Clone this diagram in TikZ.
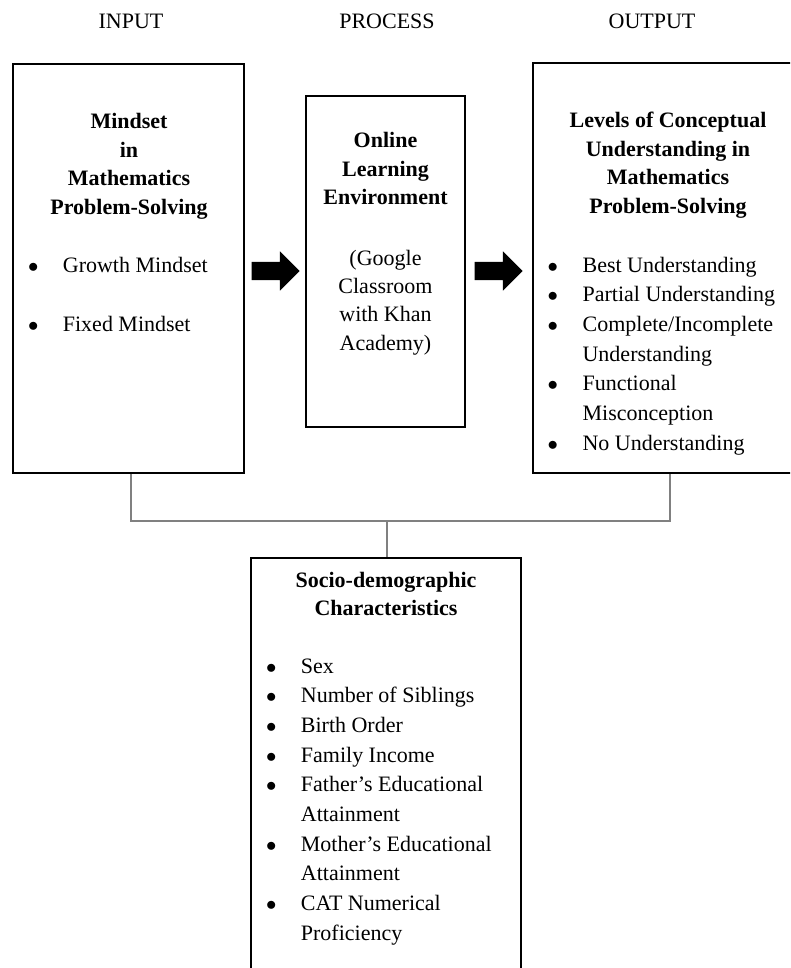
\documentclass[tikz,border=0pt]{standalone}
\usepackage{fontspec}
\setmainfont{Liberation Serif}
\usetikzlibrary{shapes.arrows}

\newcommand{\headfont}{\fontsize{22}{28.4}\selectfont}
\newcommand{\itemfont}{\fontsize{22}{29.7}\selectfont}
\newcommand{\bl}{\makebox[32.7pt][l]{\makebox[6pt]{$\bullet$}}}
\newcommand{\gap}{\hspace*{32.7pt}}

\begin{document}
\begin{tikzpicture}[x=1pt, y=-1pt,
    box/.style={draw, line width=1.8pt, inner sep=0pt},
    link/.style={draw=black!50, line width=1.2pt},
    blockarrow/.style={single arrow, fill=black, inner xsep=0pt, inner ysep=9pt,
        minimum height=48pt,
        single arrow head extend=10.5pt, single arrow head indent=0pt},
    colhead/.style={font=\headfont, anchor=base},
    heading/.style={font=\headfont\bfseries, anchor=base, inner sep=0pt},
    plain/.style={font=\headfont, anchor=base, inner sep=0pt},
    bullets/.style={font=\itemfont, anchor=base west, inner sep=0pt}]

    \clip (0,0) rectangle (790,968);

    % column titles
    \node[colhead] (hin) at (131,29) {INPUT};
    \node[colhead] (hproc) at (387,29) {PROCESS};
    \node[colhead] (hout) at (652,29) {OUTPUT};

    % the four boxes
    \node[box, minimum width=231pt, minimum height=409pt] (in) at (128.5,268.5) {};
    \node[box, minimum width=159pt, minimum height=331pt] (proc) at (385.5,261.5) {};
    \node[box, minimum width=274pt, minimum height=410pt] (out) at (670,268) {};
    \node[box, minimum width=270pt, minimum height=442pt] (socio) at (386,779) {};

    % input
    \node[heading] (intitle) at (129,129)
        {\begin{tabular}[t]{@{}c@{}}Mindset\\in\\Mathematics\\Problem-Solving\end{tabular}};
    \node[bullets] (inlist) at (30,272)
        {\begin{tabular}[t]{@{}l@{}}\bl Growth Mindset\\ \\ \bl Fixed Mindset\end{tabular}};

    % process
    \node[heading] (proctitle) at (385.5,148)
        {\begin{tabular}[t]{@{}c@{}}Online\\Learning\\Environment\end{tabular}};
    \node[plain] (proctext) at (385.5,265)
        {\begin{tabular}[t]{@{}c@{}}(Google\\Classroom\\with Khan\\Academy)\end{tabular}};

    % output
    \node[heading] (outtitle) at (668,128)
        {\begin{tabular}[t]{@{}c@{}}Levels of Conceptual\\Understanding in\\Mathematics\\Problem-Solving\end{tabular}};
    \node[bullets] (outlist) at (549.7,272)
        {\begin{tabular}[t]{@{}l@{}}\bl Best Understanding\\
        \bl Partial Understanding\\
        \bl Complete/Incomplete\\
        \gap Understanding\\
        \bl Functional\\
        \gap Misconception\\
        \bl No Understanding\end{tabular}};

    % socio-demographic
    \node[heading] (sociotitle) at (386,587)
        {\begin{tabular}[t]{@{}c@{}}Socio-demographic\\Characteristics\end{tabular}};
    \node[bullets] (sociolist) at (268,673)
        {\begin{tabular}[t]{@{}l@{}}\bl Sex\\
        \bl Number of Siblings\\
        \bl Birth Order\\
        \bl Family Income\\
        \bl Father’s Educational\\
        \gap Attainment\\
        \bl Mother’s Educational\\
        \gap Attainment\\
        \bl CAT Numerical\\
        \gap Proficiency\end{tabular}};

    % arrows between the boxes
    \node[blockarrow] (arr1) at (271,271) {};
    \node[blockarrow] (arr2) at (494,271) {};

    % connector to the bottom box
    \coordinate (jn) at (387,521);
    \draw[link] ([xshift=2.5pt]in.south) |- (jn) -| (out.south);
    \draw[link] (jn) -- (jn |- socio.north);
\end{tikzpicture}
\end{document}
